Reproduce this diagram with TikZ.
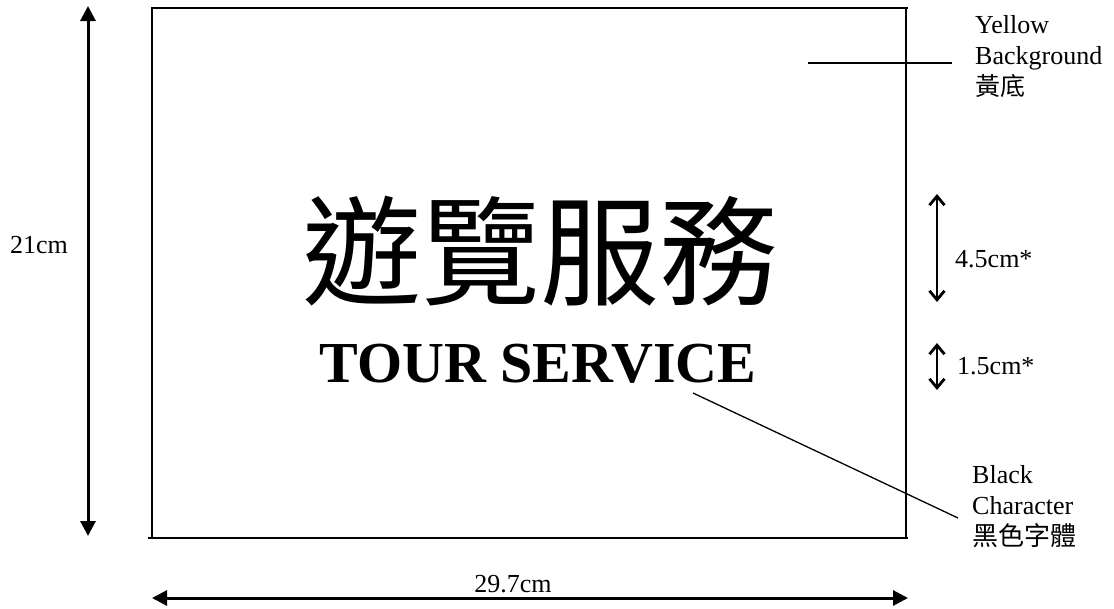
\documentclass[tikz,border=0pt]{standalone}
\usepackage{fontspec}
\setmainfont{Liberation Serif}
\newfontfamily\cjk{Noto Sans CJK TC}
\usetikzlibrary{arrows.meta}
\tikzset{
  frame/.style={line width=2pt, line cap=rect},
  dimarrow/.style={line width=3pt, {Triangle[width=15pt,length=15pt]}-{Triangle[width=15pt,length=15pt]}},
  openarrow/.style={line width=2.8pt, {Straight Barb[width=15pt,length=9pt]}-{Straight Barb[width=15pt,length=9pt]}},
  leader/.style={line width=1.3pt},
  lbl/.style={inner sep=0pt, font=\fontsize{26}{31}\selectfont},
  note/.style={inner sep=0pt, align=left, anchor=north west, font=\fontsize{26}{31}\selectfont},
}
\begin{document}
\begin{tikzpicture}[x=1pt,y=-1pt]
\useasboundingbox (0,0) rectangle (1114,608);
% sign outline
\coordinate (tl) at (152,8);
\coordinate (tr) at (907,8);
\coordinate (bl) at (152,538);
\coordinate (br) at (907,538);
\draw[frame] (tl) -- (tr);
\draw[frame] (tl) -- (bl);
\draw[frame] (149,538) -- (br);
\draw[frame] (906,10) -- (906,538);
% main texts
\node[inner sep=0pt] (zh) at (540,251) {\cjk\fontsize{119}{119}\selectfont 遊覽服務};
\node[inner sep=0pt] (en) at (538,364) {\bfseries\fontsize{58}{58}\selectfont TOUR SERVICE};
% height dimension
\coordinate (hT) at (88,6);
\coordinate (hB) at (88,536);
\draw[dimarrow] (hT) -- (hB);
\node[lbl, anchor=base west] (h) at (10,253) {21cm};
% width dimension
\coordinate (wL) at (152,598);
\coordinate (wR) at (908,598);
\draw[dimarrow] (wL) -- (wR);
\node[lbl, anchor=base] (w) at (513,592) {29.7cm};
% character heights
\coordinate (a1) at (937,194);
\coordinate (a2) at (937,302);
\draw[openarrow] (a1) -- (a2);
\node[lbl, anchor=base west] (c45) at (955,267) {4.5cm*};
\coordinate (b1) at (937,343);
\coordinate (b2) at (937,390);
\draw[openarrow] (b1) -- (b2);
\node[lbl, anchor=base west] (c15) at (957,374) {1.5cm*};
% yellow background note
\node[note] (yb) at (975,15) {Yellow\\Background\\{\cjk\fontsize{25}{31}\selectfont 黃底}};
\coordinate (ybS) at (808,63);
\coordinate (ybE) at (952,63);
\draw[leader] (ybS) -- (ybE);
% black character note
\node[note] (bc) at (972,465) {Black\\Character\\{\cjk\fontsize{26}{31}\selectfont 黑色字體}};
\coordinate (bcS) at (693,393);
\coordinate (bcE) at (958,518);
\draw[leader] (bcS) -- (bcE);
\end{tikzpicture}
\end{document}
